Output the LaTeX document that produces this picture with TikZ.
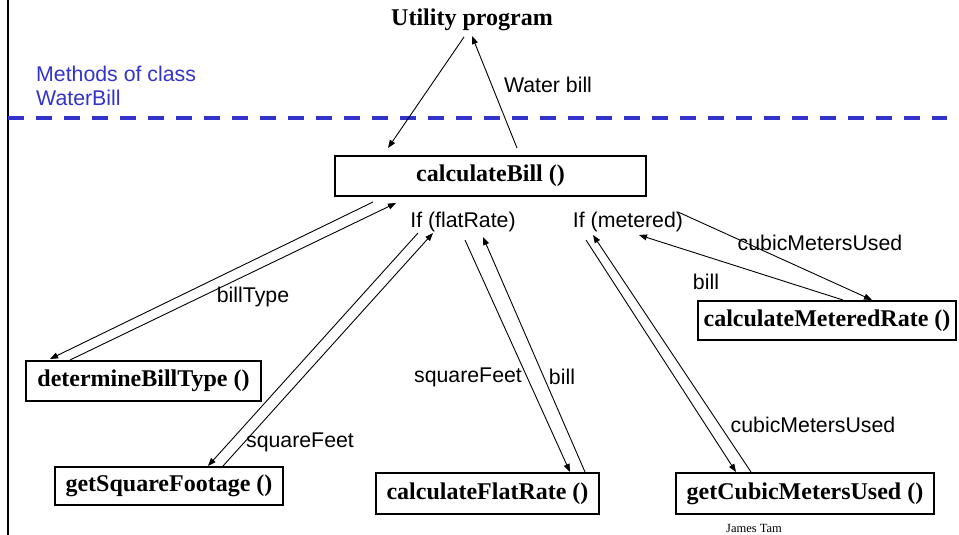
\documentclass[tikz,border=0pt]{standalone}
\usepackage{fontspec}
\setmainfont{Liberation Serif}
\newfontfamily\arialf{Liberation Sans}
\usetikzlibrary{arrows.meta}
\definecolor{dblue}{RGB}{51,51,204}
\tikzset{
  x=1pt, y=-1pt,
  mbox/.style={draw=black, line width=1.3pt, inner sep=0pt, font=\fontsize{24}{28}\selectfont\bfseries, anchor=center},
  lbl/.style={font=\arialf\fontsize{21.3}{24}\selectfont, inner sep=0pt, anchor=center},
  conn/.style={line width=0.9pt, -{Triangle[length=8pt,width=6pt]}},
  plain/.style={line width=0.9pt}
}
\begin{document}
\begin{tikzpicture}
\useasboundingbox (0,0) rectangle (959,535);
% frame line and separator
\draw[line width=2pt] (8,0) -- (8,535);
\draw[dblue, line width=4pt, dash pattern=on 16pt off 12pt] (8,118) -- (947,118);
\node[font=\arialf\fontsize{21.3}{24}\selectfont, text=dblue, anchor=north west, align=left, inner sep=0pt] (meth) at (36,66) {Methods of class\\WaterBill};

% nodes
\node[font=\fontsize{24}{28}\selectfont\bfseries, inner sep=0pt] (up) at (472,20) {Utility program};
\node[mbox, minimum width=311pt, minimum height=40pt] (cb) at (490.5,176) {calculateBill ()};
\node[mbox, minimum width=258pt, minimum height=39pt] (cmr) at (827,320.5) {calculateMeteredRate ()};
\node[mbox, minimum width=235pt, minimum height=40pt] (dbt) at (143.5,381) {determineBillType ()};
\node[mbox, minimum width=228pt, minimum height=38pt] (gsf) at (169,486) {getSquareFootage ()};
\node[mbox, minimum width=223pt, minimum height=41pt] (cfr) at (487.5,493.5) {calculateFlatRate ()};
\node[mbox, minimum width=258pt, minimum height=41pt] (gcm) at (805,493.5) {getCubicMetersUsed ()};
\node[lbl] (iff) at (463,222) {If (flatRate)};
\node[lbl] (ifm) at (628,222) {If (metered)};
\node[font=\fontsize{12.5}{14}\selectfont, inner sep=0pt] (jt) at (754,528) {James Tam};

% labels
\node[lbl] (lwb) at (548,85) {Water bill};
\node[lbl] (lbt) at (253,297) {billType};
\node[lbl] (lsf1) at (300,442) {squareFeet};
\node[lbl] (lsf2) at (468,377) {squareFeet};
\node[lbl] (lb1) at (562,377) {bill};
\node[lbl] (lcm1) at (813,425) {cubicMetersUsed};
\node[lbl] (lcm2) at (820,243) {cubicMetersUsed};
\node[lbl] (lb2) at (706,282) {bill};

% endpoint coordinates
\coordinate (upA) at (464,37);   \coordinate (cbA) at (388,148);
\coordinate (cbB) at (517,148);  \coordinate (upB) at (472,36);
\coordinate (cbC) at (373,202);  \coordinate (dbtC) at (50,359);
\coordinate (dbtD) at (70,360);  \coordinate (cbD) at (396,203);
\coordinate (iffE) at (418,233); \coordinate (gsfE) at (208,466);
\coordinate (gsfF) at (223,466); \coordinate (iffF) at (433,233);
\coordinate (iffG) at (465,240); \coordinate (cfrG) at (570,472);
\coordinate (cfrH) at (585,472); \coordinate (iffH) at (483,237);
\coordinate (ifmI) at (586,240); \coordinate (gcmI) at (736,472);
\coordinate (gcmJ) at (751,472); \coordinate (ifmJ) at (593,235);
\coordinate (ifmK) at (678,212); \coordinate (cmrK) at (872,300);
\coordinate (cmrL) at (843,300); \coordinate (ifmL) at (639,235);

% connectors
\draw[conn] (upA) -- (cbA);
\draw[conn] (cbB) -- (upB);
\draw[conn] (cbC) -- (dbtC);
\draw[conn] (dbtD) -- (cbD);
\draw[conn] (iffE) -- (gsfE);
\draw[conn] (gsfF) -- (iffF);
\draw[conn] (iffG) -- (cfrG);
\draw[conn] (cfrH) -- (iffH);
\draw[conn] (ifmI) -- (gcmI);
\draw[conn] (gcmJ) -- (ifmJ);
\draw[conn] (ifmK) -- (cmrK);
\draw[conn] (cmrL) -- (ifmL);
\end{tikzpicture}
\end{document}
